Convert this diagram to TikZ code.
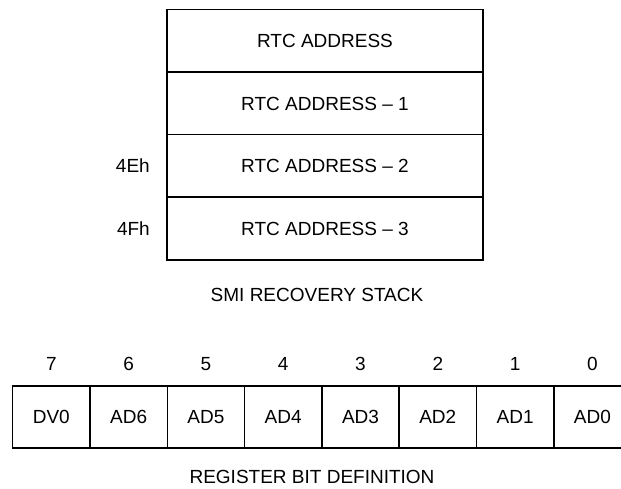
\documentclass[tikz,border=0pt]{standalone}
\usepackage{fontspec}
\setmainfont{Liberation Sans}
\usetikzlibrary{positioning}
\tikzstyle{row} = [draw, line width=1.5pt, rectangle,
    minimum width=316pt, minimum height=62.5pt, inner sep=0pt, outer sep=0pt]
\tikzstyle{cell} = [draw, line width=1.5pt, rectangle,
    minimum width=77.3pt, minimum height=62pt, inner sep=0pt, outer sep=0pt]
\tikzstyle{tag} = [inner sep=0pt]

\begin{document}
\begin{tikzpicture}[x=1pt, y=-1pt, node distance=0pt,
    every node/.style={font=\fontsize{19pt}{22pt}\selectfont}]
    \useasboundingbox (0,0) rectangle (621,489);
    \clip (0,0) rectangle (621,489);

    % The recovery stack, one row under the other
    \node [row] (rtc0) at (325,41) {RTC ADDRESS};
    \node [row, below=of rtc0] (rtc1) {RTC ADDRESS -- 1};
    \node [row, below=of rtc1] (rtc2) {RTC ADDRESS -- 2};
    \node [row, below=of rtc2] (rtc3) {RTC ADDRESS -- 3};
    \node [tag, left=17pt of rtc2] (idx4e) {4Eh};
    \node [tag, left=17pt of rtc3] (idx4f) {4Fh};
    \node [tag] (stackcap) at (317,295) {SMI RECOVERY STACK};

    % The register, bit 7 first
    \node [cell] (bit7) at (51.3,417) {DV0};
    \node [cell, right=of bit7] (bit6) {AD6};
    \node [cell, right=of bit6] (bit5) {AD5};
    \node [cell, right=of bit5] (bit4) {AD4};
    \node [cell, right=of bit4] (bit3) {AD3};
    \node [cell, right=of bit3] (bit2) {AD2};
    \node [cell, right=of bit2] (bit1) {AD1};
    \node [cell, right=of bit1] (bit0) {AD0};

    % Bit numbers above the cells
    \node [tag, above=15pt of bit7] (num7) {7};
    \node [tag, above=15pt of bit6] (num6) {6};
    \node [tag, above=15pt of bit5] (num5) {5};
    \node [tag, above=15pt of bit4] (num4) {4};
    \node [tag, above=15pt of bit3] (num3) {3};
    \node [tag, above=15pt of bit2] (num2) {2};
    \node [tag, above=15pt of bit1] (num1) {1};
    \node [tag, above=15pt of bit0] (num0) {0};
    \node [tag] (regcap) at (312,477) {REGISTER BIT DEFINITION};
\end{tikzpicture}
\end{document}
